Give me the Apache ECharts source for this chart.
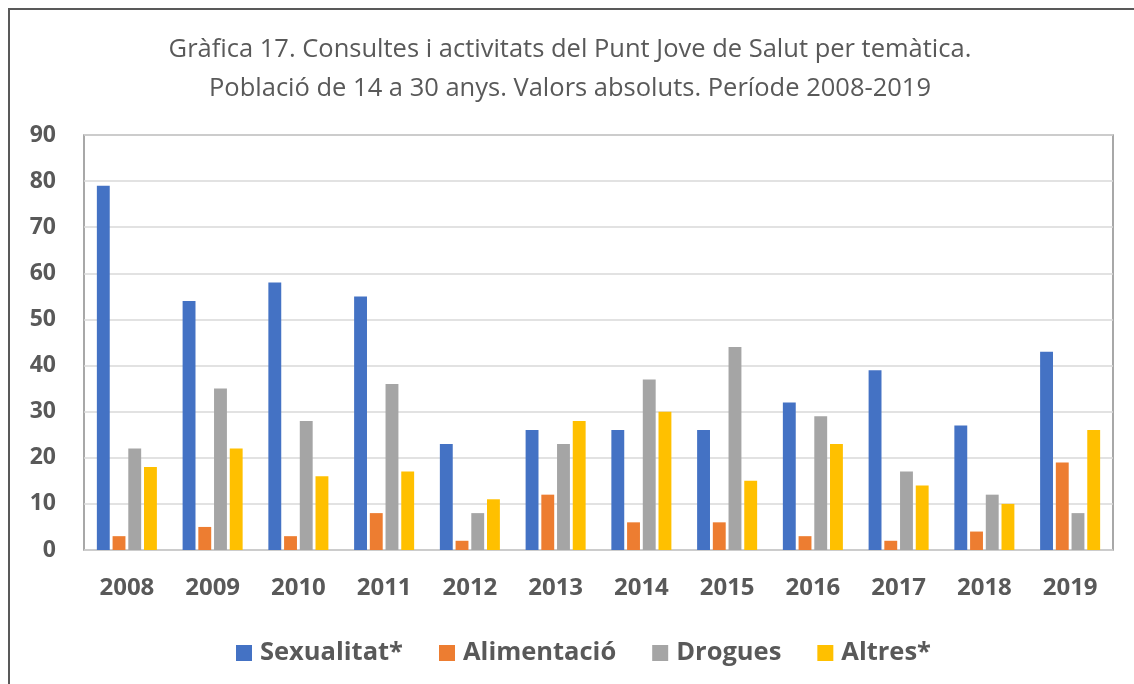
<!DOCTYPE html>
<html>
<head>
<meta charset="utf-8">
<script src="https://cdn.jsdelivr.net/npm/echarts@6/dist/echarts.min.js"></script>
<style>
  html, body { margin: 0; padding: 0; background: #fff; }
  #chart { width: 1134px; height: 684px; }
</style>
</head>
<body>
<div id="chart"></div>
<script>
var years = ["2008", "2009", "2010", "2011", "2012", "2013", "2014", "2015", "2016", "2017", "2018", "2019"];
var sexualitat = [79, 54, 58, 55, 23, 26, 26, 26, 32, 39, 27, 43];
var alimentacio = [3, 5, 3, 8, 2, 12, 6, 6, 3, 2, 4, 19];
var drogues = [22, 35, 28, 36, 8, 23, 37, 44, 29, 17, 12, 8];
var altres = [18, 22, 16, 17, 11, 28, 30, 15, 23, 14, 10, 26];

var fontFamily = "'Open Sans', sans-serif";
var textColor = "#595959";

var chart = echarts.init(document.getElementById("chart"), null, {width: 1134, height: 684});

function bar(name, data) {
  return {
    name: name,
    type: "bar",
    data: data,
    barGap: "22%",
    barCategoryGap: "30%"
  };
}

chart.setOption({
  animation: false,
  backgroundColor: "#ffffff",
  color: ["#4472C4", "#ED7D31", "#A5A5A5", "#FFC000"],
  title: {
    text: "Gràfica 17. Consultes i activitats del Punt Jove de Salut per temàtica.\nPoblació de 14 a 30 anys. Valors absoluts. Període 2008-2019",
    left: 570,
    textAlign: "center",
    top: 30,
    padding: 0,
    textStyle: {
      fontFamily: fontFamily,
      fontSize: 25.5,
      fontWeight: "normal",
      color: textColor,
      lineHeight: 39
    }
  },
  graphic: [{
    type: "polyline",
    shape: {points: [[9, 684], [9, 9], [1134, 9]]},
    style: {stroke: "#595959", lineWidth: 2, fill: null},
    silent: true
  }],
  legend: {
    bottom: 18,
    left: 236,
    padding: 0,
    itemWidth: 16,
    itemHeight: 16,
    itemGap: 36,
    icon: "rect",
    textStyle: {
      fontFamily: fontFamily,
      fontSize: 25.5,
      fontWeight: "bold",
      color: textColor,
      padding: [0, 0, 0, 3]
    }
  },
  grid: {
    left: 84,
    right: 21,
    top: 135,
    bottom: 134,
    show: true,
    borderColor: "#8c8c8c",
    borderWidth: 1.5
  },
  xAxis: {
    type: "category",
    data: years,
    axisLine: {show: false},
    axisTick: {show: false},
    axisLabel: {
      margin: 26,
      fontFamily: fontFamily,
      fontSize: 24,
      fontWeight: "bold",
      color: textColor
    }
  },
  yAxis: {
    type: "value",
    min: 0,
    max: 90,
    interval: 10,
    axisLine: {show: false},
    axisTick: {show: false},
    splitLine: {lineStyle: {color: "#d9d9d9", width: 1.5}},
    axisLabel: {
      margin: 28,
      fontFamily: fontFamily,
      fontSize: 23,
      fontWeight: "bold",
      color: textColor
    }
  },
  series: [
    bar("Sexualitat*", sexualitat),
    bar("Alimentació", alimentacio),
    bar("Drogues", drogues),
    bar("Altres*", altres)
  ]
});
</script>
</body>
</html>
